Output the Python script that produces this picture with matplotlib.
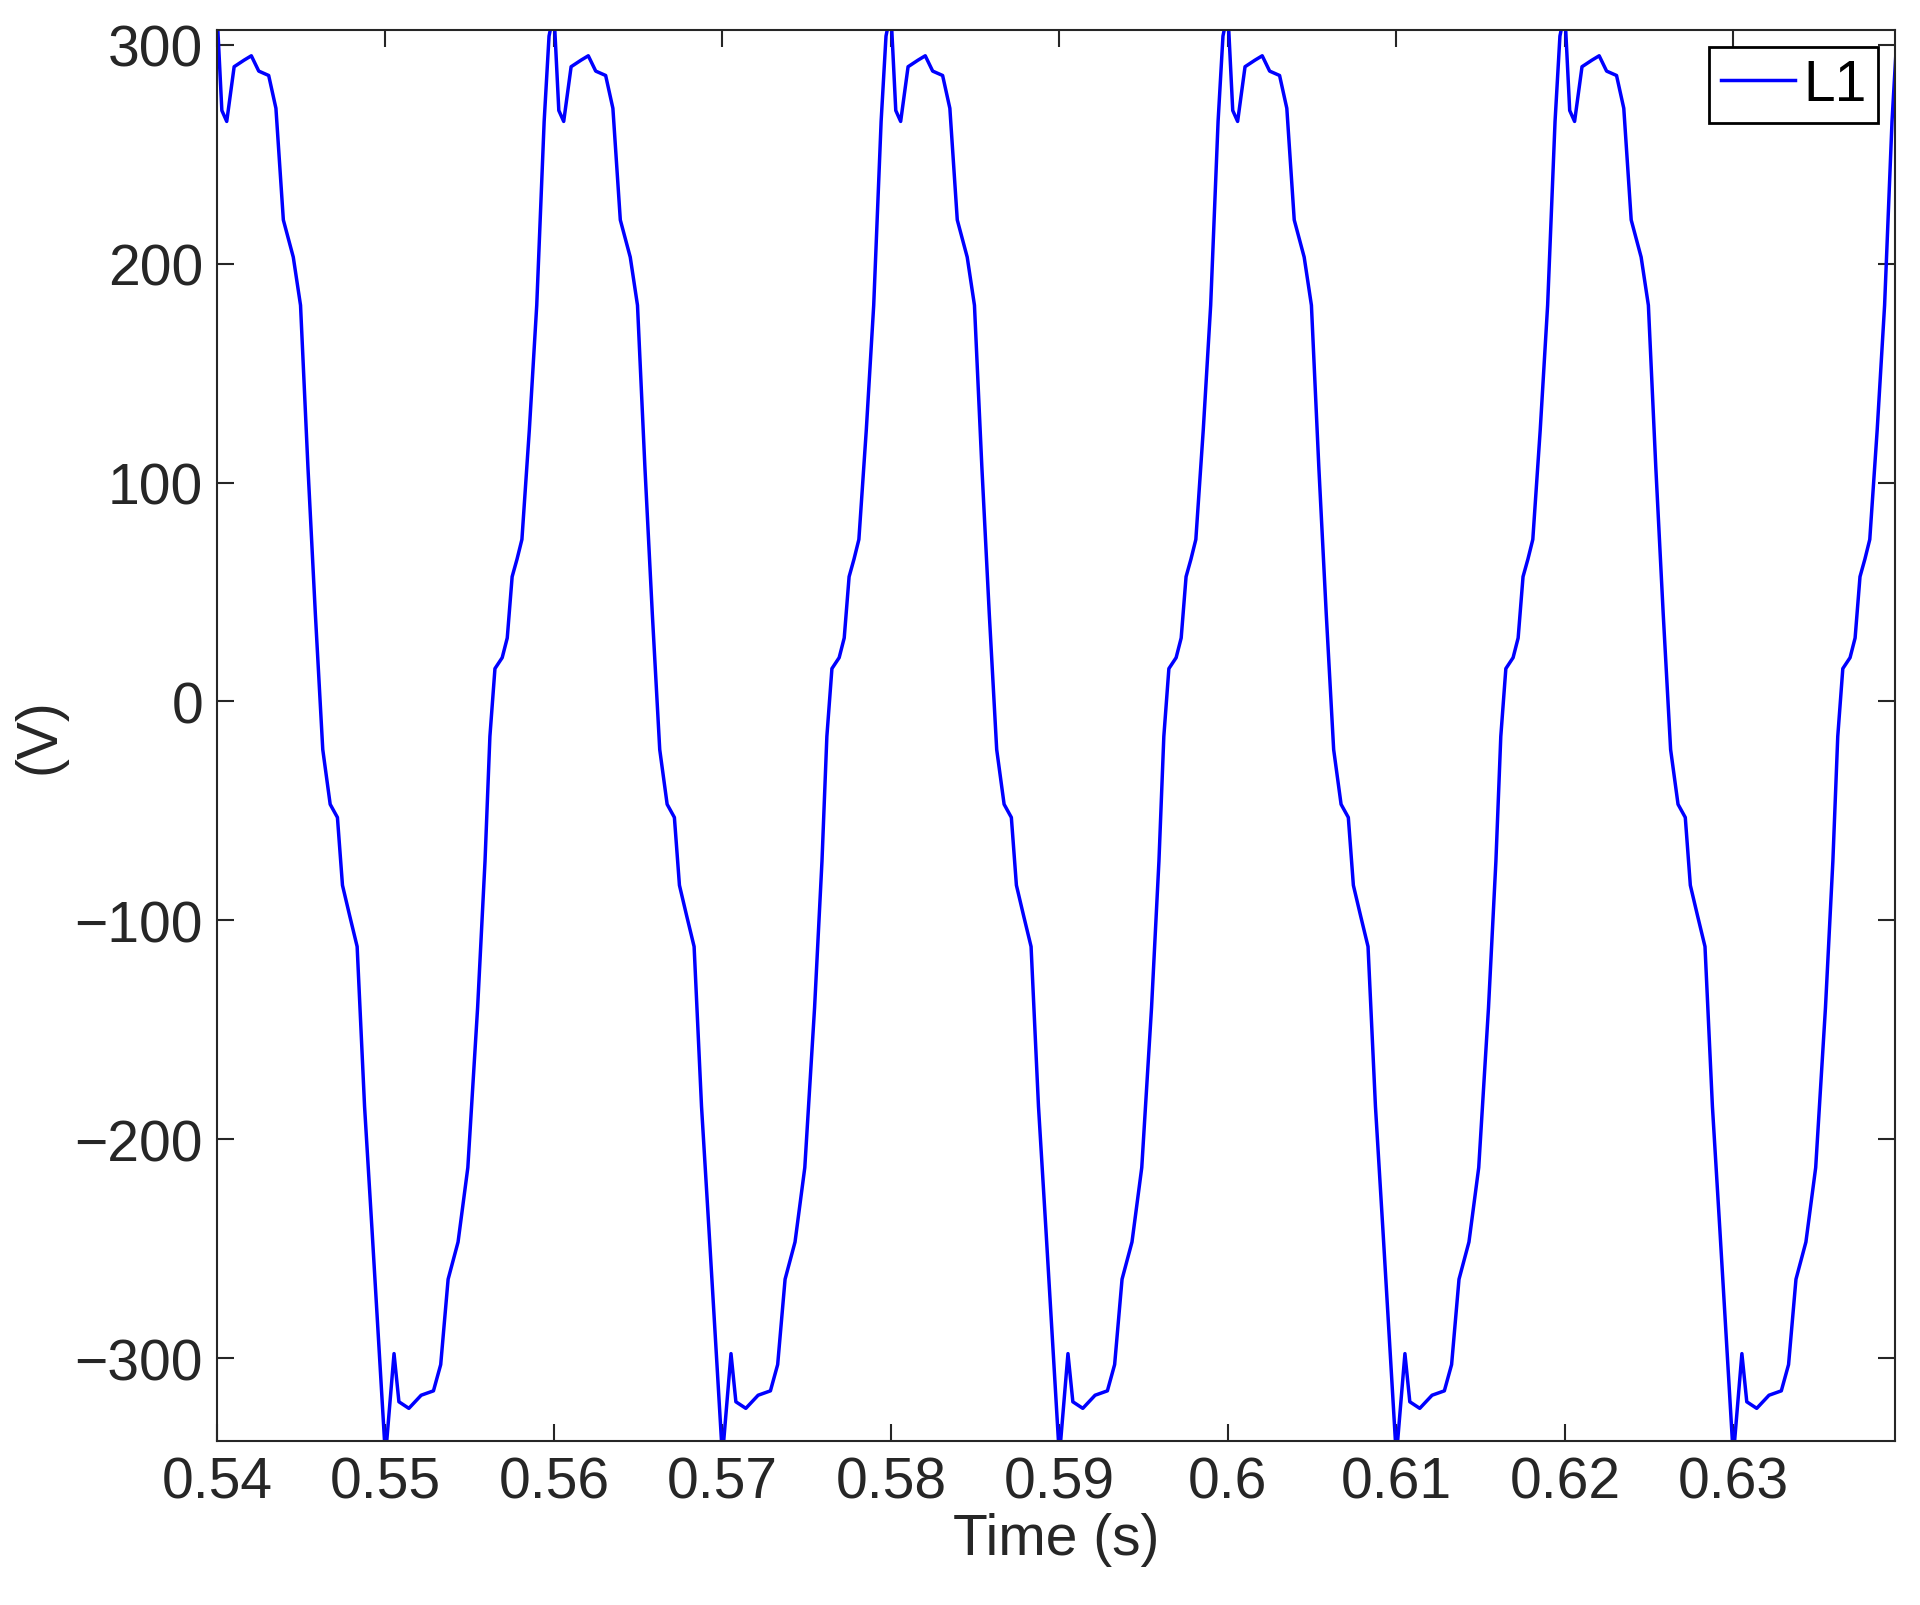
import matplotlib
matplotlib.use('Agg')
import matplotlib.pyplot as plt
import numpy as np

# one 20 ms cycle of the L1 voltage (offset from trough at 0.55 s)
cycle_ms = [0.0, 0.51, 0.80, 1.39, 2.12, 2.85, 3.28, 3.72, 4.31, 4.89, 5.47, 5.91, 6.20,
            6.50, 6.93, 7.23, 7.52, 7.81, 8.10, 8.54, 8.98, 9.42, 9.71, 10.0, 10.29, 10.58,
            11.02, 11.61, 12.04, 12.48, 13.07, 13.50, 13.94, 14.53, 14.96, 15.40, 15.84,
            16.28, 16.72, 17.15, 17.45, 17.88, 18.32, 18.76, 19.20, 19.64]
cycle_v = [-345, -298, -320, -323, -317, -315, -303, -264, -247, -213, -140, -73, -16,
           15, 20, 29, 57, 65, 74, 124, 181, 265, 304, 315, 270, 265,
           290, 293, 295, 288, 286, 271, 220, 203, 181, 107, 40,
           -22, -47, -53, -84, -98, -112, -185, -241, -298]
cycle_starts = [0.53, 0.55, 0.57, 0.59, 0.61, 0.63]

t = np.concatenate([s + np.array(cycle_ms) / 1000 for s in cycle_starts] + [[0.65]])
v = np.concatenate([cycle_v for _ in cycle_starts] + [[cycle_v[0]]])

plt.rcParams['font.family'] = ['Liberation Sans', 'DejaVu Sans']
fig, ax = plt.subplots(figsize=(19.2, 16.06), dpi=100)
fig.subplots_adjust(left=0.113, right=0.987, top=0.981, bottom=0.102)
ax.plot(t, v, color='#0000ff', lw=2.5, label='L1')
ax.set_xlim(0.54, 0.6396)
ax.set_ylim(-338, 307)
ax.set_xticks([0.54, 0.55, 0.56, 0.57, 0.58, 0.59, 0.6, 0.61, 0.62, 0.63])
ax.set_xticklabels(['0.54', '0.55', '0.56', '0.57', '0.58', '0.59', '0.6', '0.61', '0.62', '0.63'])
ax.set_yticks([-300, -200, -100, 0, 100, 200, 300])
ax.set_yticklabels(['\u2212300', '\u2212200', '\u2212100', '0', '100', '200', '300'])
ax.tick_params(direction='in', top=True, right=True, length=12, width=1.5,
               labelsize=41, colors='#262626', pad=10)
for s in ax.spines.values():
    s.set_linewidth(1.5)
    s.set_color('#262626')
ax.set_xlabel('Time (s)', fontsize=41, color='#262626', labelpad=2)
ax.set_ylabel('(V)', fontsize=41, color='#262626', labelpad=6)
leg = ax.legend(loc='upper right', fontsize=41, fancybox=False, framealpha=1,
                edgecolor='black', handlelength=1.3, handletextpad=0.15, borderpad=0.2,
                borderaxespad=0.3)
leg.get_frame().set_linewidth(2)
fig.savefig('out.png', facecolor='white')
